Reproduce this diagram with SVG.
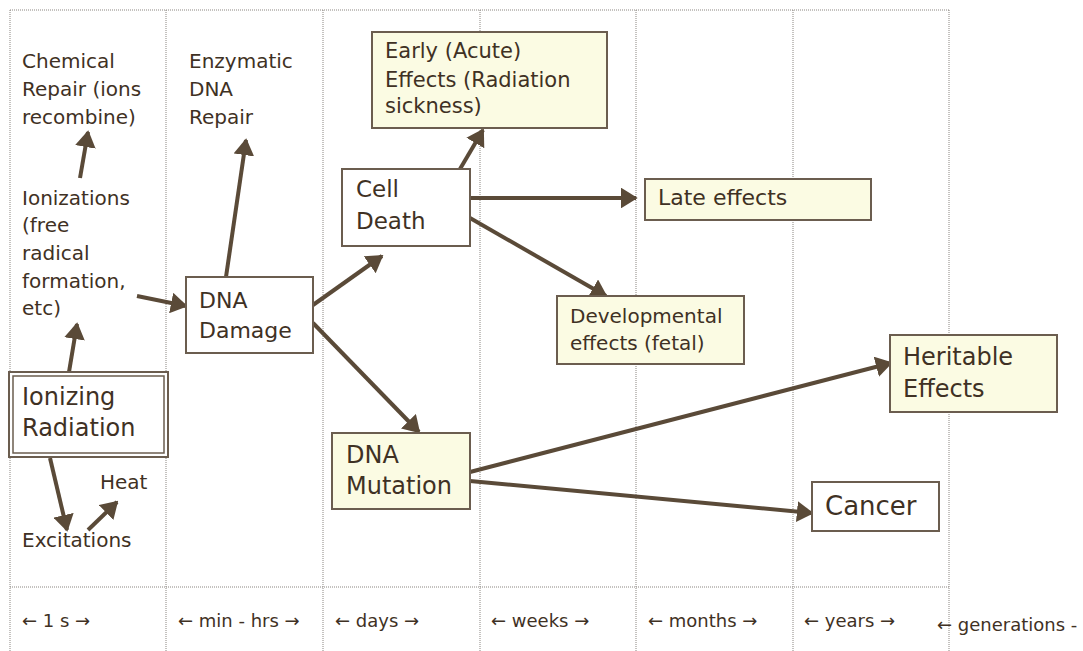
<svg xmlns="http://www.w3.org/2000/svg" width="1083" height="651" viewBox="0 0 1083 651">
  <style>
    text { font-family: "DejaVu Sans", "Liberation Sans", sans-serif; fill: #3f3124; }
    .lbl { font-size: 20px; }
    .big { font-size: 23px; }
    .mid { font-size: 21px; }
    .time { font-size: 18px; }
    .grid { stroke: #8a8580; stroke-width: 1; stroke-dasharray: 1 1; fill: none; }
    .box { fill: #ffffff; stroke: #6b5d4f; stroke-width: 2; }
    .note { fill: #fbfbe3; stroke: #6b5d4f; stroke-width: 2; }
    .conn { stroke: #5a4a38; stroke-width: 4; fill: none; marker-end: url(#head); }
  </style>
  <defs>
    <marker id="head" viewBox="0 0 10 10" refX="9" refY="5" markerWidth="4.2" markerHeight="5.2" preserveAspectRatio="none" orient="auto">
      <path d="M0,0 L10,5 L0,10 z" fill="#5a4a38"/>
    </marker>
  </defs>

  <rect width="1083" height="651" fill="#ffffff"/>

  <!-- time grid -->
  <g id="grid">
    <line class="grid" x1="10" y1="10" x2="949" y2="10"/>
    <line class="grid" x1="10" y1="587" x2="949" y2="587"/>
    <line class="grid" x1="10" y1="10" x2="10" y2="651"/>
    <line class="grid" x1="166" y1="10" x2="166" y2="651"/>
    <line class="grid" x1="323" y1="10" x2="323" y2="651"/>
    <line class="grid" x1="480" y1="10" x2="480" y2="651"/>
    <line class="grid" x1="636" y1="10" x2="636" y2="651"/>
    <line class="grid" x1="793" y1="10" x2="793" y2="651"/>
    <line class="grid" x1="949" y1="10" x2="949" y2="651"/>
  </g>

  <!-- time scale -->
  <g id="timescale" class="time">
    <text x="22" y="627">← 1 s →</text>
    <text x="178" y="627">← min - hrs →</text>
    <text x="335" y="627">← days →</text>
    <text x="491" y="627">← weeks →</text>
    <text x="648" y="627">← months →</text>
    <text x="804" y="627">← years →</text>
    <text x="937" y="631">← generations -</text>
  </g>

  <!-- connectors -->
  <g id="connectors">
    <line class="conn" x1="80" y1="178" x2="88" y2="132"/>
    <line class="conn" x1="69" y1="372" x2="77" y2="324"/>
    <line class="conn" x1="50" y1="458" x2="67" y2="530"/>
    <line class="conn" x1="88" y1="530" x2="117" y2="502"/>
    <line class="conn" x1="137" y1="296" x2="186" y2="306"/>
    <line class="conn" x1="226" y1="277" x2="246" y2="140"/>
    <line class="conn" x1="313" y1="305" x2="382" y2="256"/>
    <line class="conn" x1="313" y1="323" x2="419" y2="432"/>
    <line class="conn" x1="460" y1="169" x2="483" y2="130"/>
    <line class="conn" x1="470" y1="198" x2="636" y2="198"/>
    <line class="conn" x1="470" y1="218" x2="606" y2="296"/>
    <line class="conn" x1="470" y1="472" x2="891" y2="363"/>
    <line class="conn" x1="470" y1="481" x2="812" y2="513"/>
  </g>

  <!-- plain labels -->
  <g id="chemical-repair" class="lbl">
    <text x="22" y="68">Chemical</text>
    <text x="22" y="96">Repair (ions</text>
    <text x="22" y="124">recombine)</text>
  </g>
  <g id="enzymatic-repair" class="lbl">
    <text x="189" y="68">Enzymatic</text>
    <text x="189" y="96">DNA</text>
    <text x="189" y="124">Repair</text>
  </g>
  <g id="ionizations" class="lbl">
    <text x="22" y="205">Ionizations</text>
    <text x="22" y="232">(free</text>
    <text x="22" y="260">radical</text>
    <text x="22" y="288">formation,</text>
    <text x="22" y="315">etc)</text>
  </g>
  <g id="heat" class="lbl">
    <text x="100" y="489">Heat</text>
  </g>
  <g id="excitations" class="lbl">
    <text x="22" y="547">Excitations</text>
  </g>

  <!-- boxed nodes -->
  <g id="ionizing-radiation">
    <rect x="9" y="372" width="159" height="85" fill="#ffffff" stroke="#6b5d4f" stroke-width="2"/>
    <rect x="13" y="376" width="151" height="77" fill="none" stroke="#6b5d4f" stroke-width="1.5"/>
    <text class="big" x="22" y="405" style="font-size:24px">Ionizing</text>
    <text class="big" x="22" y="436" style="font-size:24px">Radiation</text>
  </g>
  <g id="dna-damage">
    <rect class="box" x="186" y="277" width="127" height="76"/>
    <text class="big" x="199" y="308" style="font-size:22px">DNA</text>
    <text class="big" x="199" y="338" style="font-size:22px">Damage</text>
  </g>
  <g id="cell-death">
    <rect class="box" x="342" y="169" width="128" height="77"/>
    <text class="big" x="356" y="197">Cell</text>
    <text class="big" x="356" y="229">Death</text>
  </g>
  <g id="early-effects">
    <rect class="note" x="372" y="32" width="235" height="96"/>
    <text class="mid" x="385" y="58">Early (Acute)</text>
    <text class="mid" x="385" y="87">Effects (Radiation</text>
    <text class="mid" x="385" y="113">sickness)</text>
  </g>
  <g id="late-effects">
    <rect class="note" x="645" y="179" width="226" height="41"/>
    <text class="mid" x="658" y="205" style="font-size:22px">Late effects</text>
  </g>
  <g id="developmental-effects">
    <rect class="note" x="557" y="296" width="187" height="68"/>
    <text class="lbl" x="570" y="323">Developmental</text>
    <text class="lbl" x="570" y="350">effects (fetal)</text>
  </g>
  <g id="dna-mutation">
    <rect class="note" x="332" y="433" width="138" height="76"/>
    <text class="big" x="346" y="463" style="font-size:24px">DNA</text>
    <text class="big" x="346" y="494" style="font-size:24px">Mutation</text>
  </g>
  <g id="heritable-effects">
    <rect class="note" x="890" y="335" width="167" height="77"/>
    <text class="big" x="903" y="365" style="font-size:24px">Heritable</text>
    <text class="big" x="903" y="397" style="font-size:24px">Effects</text>
  </g>
  <g id="cancer">
    <rect class="box" x="812" y="482" width="127" height="49"/>
    <text class="big" x="825" y="515" style="font-size:26px">Cancer</text>
  </g>
</svg>
